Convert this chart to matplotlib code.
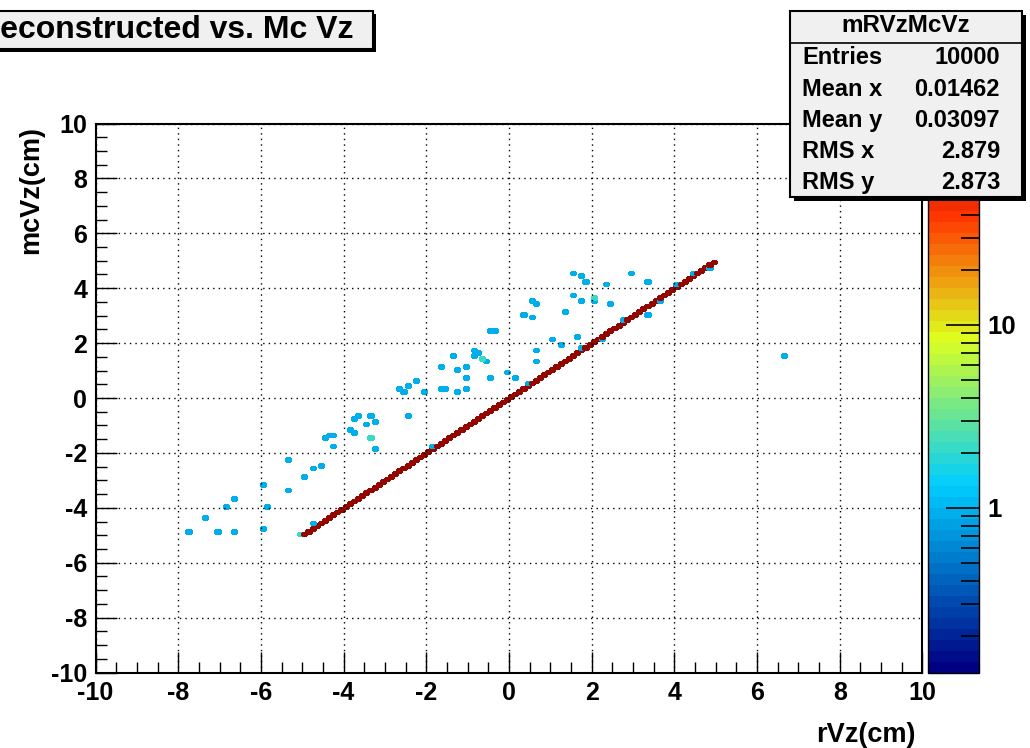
"""2D histogram of reconstructed vs. MC vertex z, ROOT-style COLZ look."""

import numpy as np
import matplotlib

matplotlib.use("Agg")
import matplotlib.pyplot as plt
from matplotlib.colors import LinearSegmentedColormap, LogNorm
from matplotlib.patches import Rectangle
from matplotlib.ticker import AutoMinorLocator, LogLocator, NullFormatter, FixedLocator

plt.rcParams["font.family"] = ["Liberation Sans", "DejaVu Sans"]
plt.rcParams["font.weight"] = "bold"
plt.rcParams["axes.unicode_minus"] = False

# ---- data -----------------------------------------------------------------
n_bins = 200
axis_range = (-10.0, 10.0)

# diagonal band: one bin per step from -5 to 5, all roughly the same content
diag_start, diag_stop = -5.0, 5.0
diag_count = 99

# off-diagonal bins (bin centres) and their contents
off_x = [-7.75, -7.35, -7.05, -6.85, -6.65, -6.65, -5.95, -5.95, -5.85, -5.35,
         -5.35, -4.95, -4.75, -4.55, -4.45, -4.35, -4.25, -4.25, -3.85, -3.75,
         -3.75, -3.65, -3.45, -3.35, -3.35, -3.25, -3.25, -2.45, -2.65, -2.55,
         -2.45, -2.25, -2.05, -1.65, -1.55, -1.65, -1.35, -1.25, -1.25, -1.05,
         -1.05, -1.05, -0.85, -0.75, -0.85, -0.65, -0.55, -0.45, -0.45, -0.35,
         -0.05, 0.15, 0.35, 0.55, 0.65, 0.55, 0.65, 0.65, 1.05, 1.25,
         1.35, 1.55, 1.75, 1.85, 1.55, 1.75, 2.05, 2.05, 1.65, 2.35,
         2.45, 2.95, 3.35, 3.35, 6.65,
         -5.05, -4.75, -1.85, 0.45, 1.75, 2.25, 2.75, 3.65, 4.05, 4.45, 4.85]
off_y = [-4.85, -4.35, -4.85, -3.95, -3.65, -4.85, -3.15, -4.75, -3.95, -2.25,
         -3.35, -2.85, -2.55, -2.45, -1.45, -1.35, -1.35, -1.75, -1.15, -1.25,
         -0.75, -0.65, -0.95, -0.65, -1.45, -0.85, -1.85, -0.65, 0.35, 0.25,
         0.45, 0.65, 0.25, 0.35, 0.35, 1.15, 1.55, 1.05, 0.25, 1.15,
         0.75, 0.35, 1.75, 1.65, 1.55, 1.45, 1.35, 0.75, 2.45, 2.45,
         0.95, 0.75, 3.05, 3.55, 3.45, 2.95, 1.75, 1.35, 2.15, 1.95,
         3.15, 4.55, 4.45, 4.25, 3.75, 3.55, 3.65, 3.55, 2.25, 4.15,
         3.45, 4.55, 4.25, 3.05, 1.55,
         -4.95, -4.55, -1.75, 0.55, 1.85, 2.15, 2.85, 3.55, 4.15, 4.55, 4.75]
off_n = [1] * 24 + [2] + [1] * 20 + [2] + [1] * 20 + [2] + [1] * 8 + [2] + [1] * 10

stats_rows = [("Entries", "10000"), ("Mean x", "0.01462"), ("Mean y", "0.03097"),
              ("RMS x", "2.879"), ("RMS y", "2.873")]

# ---- build histogram -------------------------------------------------------
edges = np.linspace(axis_range[0], axis_range[1], n_bins + 1)
width = edges[1] - edges[0]
H = np.zeros((n_bins, n_bins))
i0 = int(round((diag_start - axis_range[0]) / width))
i1 = int(round((diag_stop - axis_range[0]) / width))
for i in range(i0, i1):
    H[i, i] += diag_count
for x, y, n in zip(off_x, off_y, off_n):
    ix = int((x - axis_range[0]) // width)
    iy = int((y - axis_range[0]) // width)
    H[ix, iy] += n
Hm = np.ma.masked_equal(H.T, 0)

# ROOT 5 "pretty palette" (SetPalette(1)), 50 colours
stops = [0.00, 0.34, 0.61, 0.84, 1.00]
red = [0.00, 0.00, 0.87, 1.00, 0.51]
green = [0.00, 0.81, 1.00, 0.20, 0.00]
blue = [0.51, 1.00, 0.12, 0.00, 0.00]
cmap = LinearSegmentedColormap.from_list(
    "root", list(zip(stops, zip(red, green, blue))), N=50)

zmax = 126.0
norm = LogNorm(vmin=zmax * 1e-3, vmax=zmax)

# ---- figure ----------------------------------------------------------------
W, Hpx = 1030, 748
fig = plt.figure(figsize=(W / 100, Hpx / 100), dpi=100)


def fx(px):
    return px / W


def fy(py):
    return 1 - py / Hpx


left, right, top, bottom = 95.5, 922.5, 123.5, 672.5
ax = fig.add_axes([fx(left), fy(bottom), fx(right - left), (bottom - top) / Hpx])
cax = fig.add_axes([fx(928), fy(bottom), fx(979 - 928), (bottom - top) / Hpx])

mesh = ax.pcolormesh(edges, edges, Hm, cmap=cmap, norm=norm,
                     edgecolors="face", linewidth=0.8)
ax.set_xlim(axis_range)
ax.set_ylim(axis_range)
ax.set_xticks(np.arange(-10, 11, 2))
ax.set_yticks(np.arange(-10, 11, 2))
ax.xaxis.set_minor_locator(AutoMinorLocator(4))
ax.yaxis.set_minor_locator(AutoMinorLocator(4))
ax.tick_params(which="both", direction="in", top=False, right=False,
               width=1.0, color="black", labelsize=18)
ax.tick_params(which="major", length=15, pad=6)
ax.tick_params(which="minor", length=8)
for lab in ax.get_xticklabels() + ax.get_yticklabels():
    lab.set_fontweight("bold")
ax.grid(True, which="major", color="black", linestyle=(0, (1, 3)), linewidth=1.0)
ax.set_axisbelow(False)
for sp in ax.spines.values():
    sp.set_linewidth(1.5)

fig.text(fx(916), fy(735), "rVz(cm)", ha="right", va="center",
         fontsize=19.5, fontweight="bold")
fig.text(fx(31), fy(126), "mcVz(cm)", ha="center", va="top", rotation=90,
         fontsize=19.5, fontweight="bold")

# colour bar
cb = fig.colorbar(mesh, cax=cax)
cb.outline.set_linewidth(1.0)
cax.yaxis.set_major_locator(FixedLocator([1, 10, 100]))
cax.set_yticklabels(["1", "10", "10²"])
cax.yaxis.set_minor_locator(LogLocator(base=10, subs=np.arange(2, 10)))
cax.yaxis.set_minor_formatter(NullFormatter())
cax.tick_params(which="both", direction="in", right=True, left=False,
                labelsize=18.5, width=1.2)
cax.tick_params(which="major", length=24, pad=6)
cax.tick_params(which="minor", length=13)
for lab in cax.get_yticklabels():
    lab.set_fontweight("bold")

# title box
fig.add_artist(Rectangle((fx(-10) + fx(3), fy(49) - 3 / Hpx), fx(383), 38 / Hpx,
                         transform=fig.transFigure, facecolor="black",
                         edgecolor="none", zorder=5))
fig.add_artist(Rectangle((fx(-10), fy(49)), fx(383), 38 / Hpx,
                         transform=fig.transFigure, facecolor="#f0f0f0",
                         edgecolor="black", linewidth=1.5, zorder=6))
fig.text(fx(-23), fy(30), "Reconstructed vs. Mc Vz", ha="left", va="center",
         fontsize=23, fontweight="bold", zorder=7)

# stats box
bx0, bx1, by0, by1 = 790, 1022, 11, 197
fig.add_artist(Rectangle((fx(bx0 + 4), fy(by1 + 4)), fx(bx1 - bx0), (by1 - by0) / Hpx,
                         transform=fig.transFigure, facecolor="black",
                         edgecolor="none", zorder=5))
fig.add_artist(Rectangle((fx(bx0), fy(by1)), fx(bx1 - bx0), (by1 - by0) / Hpx,
                         transform=fig.transFigure, facecolor="#f0f0f0",
                         edgecolor="black", linewidth=1.5, zorder=6))
fig.add_artist(plt.Line2D([fx(bx0), fx(bx1)], [fy(43), fy(43)],
                          transform=fig.transFigure, color="black",
                          linewidth=1.2, zorder=7))
fig.text(fx((bx0 + bx1) / 2), fy(26), "mRVzMcVz", ha="center", va="center",
         fontsize=17.5, fontweight="bold", zorder=7)
for k, (name, val) in enumerate(stats_rows):
    yy = fy(58 + 31.2 * k)
    fig.text(fx(802), yy, name, ha="left", va="center",
             fontsize=17, fontweight="bold", zorder=7)
    fig.text(fx(1000), yy, val, ha="right", va="center",
             fontsize=17, fontweight="bold", zorder=7)

fig.savefig("out.png", dpi=100)
